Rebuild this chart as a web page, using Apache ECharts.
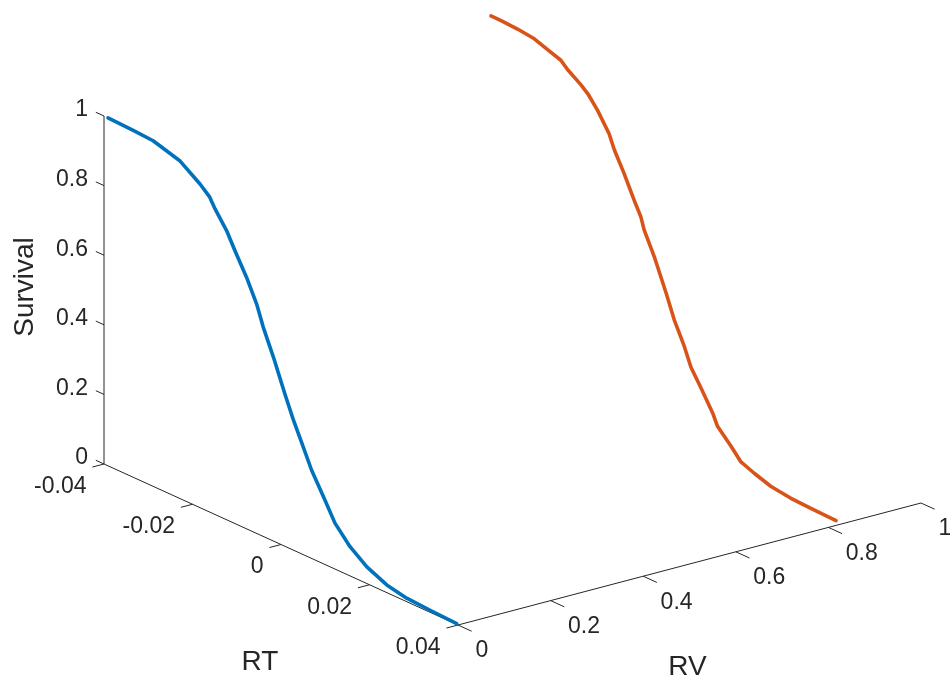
<!DOCTYPE html>
<html>
<head>
<meta charset="utf-8">
<script src="https://cdn.jsdelivr.net/npm/echarts@6/dist/echarts.min.js"></script>
<style>html,body{margin:0;padding:0;background:#fff}#c{width:950px;height:686px}</style>
</head>
<body>
<div id="c"></div>
<script>
// ---- data ----
const rtTicks = [-0.04, -0.02, 0, 0.02, 0.04];
const rtTickLabels = ['-0.04', '-0.02', '0', '0.02', '0.04'];
const rvTicks = [0, 0.2, 0.4, 0.6, 0.8, 1];
const rvTickLabels = ['0', '0.2', '0.4', '0.6', '0.8', '1'];
const survTicks = [0, 0.2, 0.4, 0.6, 0.8, 1];
const survTickLabels = ['0', '0.2', '0.4', '0.6', '0.8', '1'];
const seriesRV = [0, 0.83];
const rtBlue = [-0.0391, -0.0334, -0.0289, -0.0228, -0.0183, -0.0161, -0.0149, -0.0123, -0.0104, -0.0078, -0.0055, -0.0040, -0.0017, 0.0009, 0.0028, 0.0050, 0.0069, 0.0096, 0.0122, 0.0156, 0.0194, 0.0239, 0.0284, 0.0337, 0.0397];
const survBlue = [1.000, 0.997, 0.993, 0.970, 0.930, 0.905, 0.878, 0.831, 0.784, 0.723, 0.659, 0.601, 0.528, 0.437, 0.374, 0.310, 0.254, 0.193, 0.132, 0.084, 0.048, 0.022, 0.010, 0.006, 0.002];
const rtOrange = [-0.0394, -0.0371, -0.0334, -0.0296, -0.0266, -0.0236, -0.0221, -0.0191, -0.0175, -0.0153, -0.0127, -0.0115, -0.0093, -0.0070, -0.0055, -0.0048, -0.0025, 0.0002, 0.0020, 0.0043, 0.0058, 0.0081, 0.0107, 0.0118, 0.0149, 0.0171, 0.0201, 0.0239, 0.0284, 0.0329, 0.0359, 0.0386];
const survOrange = [1.000, 1.000, 0.997, 0.991, 0.977, 0.964, 0.946, 0.920, 0.903, 0.868, 0.816, 0.776, 0.721, 0.657, 0.618, 0.586, 0.522, 0.432, 0.367, 0.303, 0.252, 0.205, 0.149, 0.117, 0.077, 0.045, 0.030, 0.014, 0.006, 0.003, 0.002, 0.001];
const seriesColors = ['#0072BD', '#D95319'];

// ---- 3D view (orthographic projection onto the page plane) ----
const LIM = { rt: [-0.04, 0.04], rv: [0, 1], s: [0, 1] };
const VIEW = { origin: [104, 464], ex: [354, 161], ey: [463, -122], ez: [0, -348] };
function P(rt, rv, s) {
  const a = (rt - LIM.rt[0]) / (LIM.rt[1] - LIM.rt[0]);
  const b = (rv - LIM.rv[0]) / (LIM.rv[1] - LIM.rv[0]);
  const c = (s - LIM.s[0]) / (LIM.s[1] - LIM.s[0]);
  return [VIEW.origin[0] + a * VIEW.ex[0] + b * VIEW.ey[0] + c * VIEW.ez[0],
          VIEW.origin[1] + a * VIEW.ex[1] + b * VIEW.ey[1] + c * VIEW.ez[1]];
}
function unit(v) { const l = Math.hypot(v[0], v[1]); return [v[0] / l, v[1] / l]; }
const uRT = unit(VIEW.ex), uRV = unit(VIEW.ey);
const add = (p, u, k) => [p[0] + u[0] * k, p[1] + u[1] * k];

const AX = '#262626';
const FONT = '"Liberation Sans", Arial, Helvetica, sans-serif';
const TICKFS = 23, LABFS = 28;

// axis box lines
const axisLine = [P(LIM.rt[0], 0, 1), P(LIM.rt[0], 0, 0), P(LIM.rt[1], 0, 0), P(LIM.rt[1], 1, 0)];

// tick marks
const tickLines = [];
survTicks.forEach(s => { const p = P(LIM.rt[0], 0, s); tickLines.push({ coords: [p, add(p, uRT, -9)] }); });
rtTicks.forEach(r => { const p = P(r, 0, 0); tickLines.push({ coords: [p, add(p, uRV, -12)] }); });
rvTicks.forEach(v => { const p = P(LIM.rt[1], v, 0); tickLines.push({ coords: [p, add(p, uRT, 15)] }); });

// tick labels
const labels = [];
survTicks.forEach((s, i) => { const p = P(LIM.rt[0], 0, s); labels.push({ p, dx: -16, dy: -6, text: survTickLabels[i], align: 'right', fs: TICKFS, rot: 0 }); });
rtTicks.forEach((r, i) => { const p = P(r, 0, 0); labels.push({ p, dx: -17.5, dy: 22.5, text: rtTickLabels[i], align: 'right', fs: TICKFS, rot: 0 }); });
rvTicks.forEach((v, i) => { const p = P(LIM.rt[1], v, 0); labels.push({ p, dx: 17.4, dy: 26, text: rvTickLabels[i], align: 'left', fs: TICKFS, rot: 0 }); });
// axis titles
labels.push({ p: P(0, 0, 0), dx: -21, dy: 118, text: 'RT', align: 'center', fs: LABFS, rot: 0 });
labels.push({ p: P(LIM.rt[1], 0.5, 0), dx: -2, dy: 103, text: 'RV', align: 'center', fs: LABFS, rot: 0 });
labels.push({ p: P(LIM.rt[0], 0, 0.5), dx: -79, dy: -3, text: 'Survival', align: 'center', fs: LABFS, rot: Math.PI / 2 });

const curves = [[rtBlue, survBlue], [rtOrange, survOrange]].map((c, k) => ({
  type: 'line',
  data: c[0].map((r, i) => P(r, seriesRV[k], c[1][i])),
  symbol: 'none',
  lineStyle: { color: seriesColors[k], width: 3.6, join: 'round', cap: 'round' },
  itemStyle: { color: seriesColors[k] },
  z: 5,
  silent: true
}));

const chart = echarts.init(document.getElementById('c'), null, { renderer: 'canvas' });
chart.setOption({
  animation: false,
  grid: { left: 0, right: 0, top: 0, bottom: 0 },
  xAxis: { type: 'value', min: 0, max: 950, show: false },
  yAxis: { type: 'value', min: 0, max: 686, inverse: true, show: false },
  series: [
    { type: 'line', data: axisLine, symbol: 'none', lineStyle: { color: AX, width: 1 }, z: 2, silent: true },
    { type: 'lines', coordinateSystem: 'cartesian2d', data: tickLines, lineStyle: { color: AX, width: 1, opacity: 1 }, z: 2, silent: true },
    ...curves,
    {
      type: 'custom', coordinateSystem: 'cartesian2d', silent: true, z: 3,
      data: labels.map(l => l.p),
      renderItem: function (params, api) {
        const l = labels[params.dataIndex];
        const c = api.coord(l.p);
        return {
          type: 'text', x: c[0] + l.dx, y: c[1] + l.dy, rotation: l.rot,
          style: { text: l.text, fill: AX, font: l.fs + 'px ' + FONT, align: l.align, verticalAlign: 'middle' }
        };
      }
    }
  ]
});
</script>
</body>
</html>
